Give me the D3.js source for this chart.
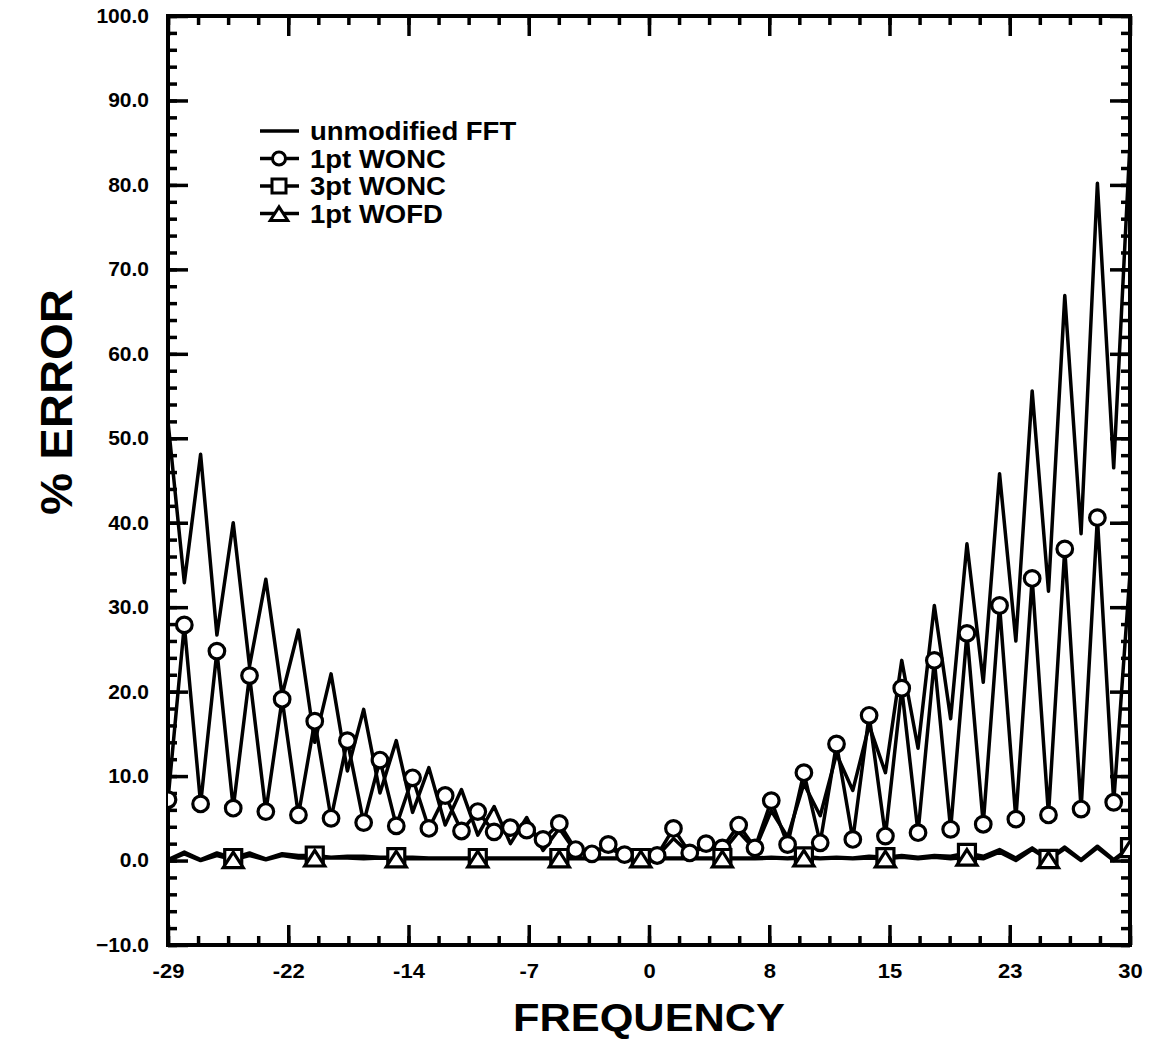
<!DOCTYPE html>
<html>
<head>
<meta charset="utf-8">
<script src="https://cdn.jsdelivr.net/npm/d3@7"></script>
<style>
  body { margin: 0; background: #fff; }
  text { font-family: "Liberation Sans", Arial, Helvetica, sans-serif; font-weight: bold; fill: #000; }
</style>
</head>
<body>
<svg id="chart"></svg>
<script>
// frequencies -29 .. 30
var freqs = [-29, -28, -27, -26, -25, -24, -23, -22, -21, -20, -19, -18, -17, -16, -15,
  -14, -13, -12, -11, -10, -9, -8, -7, -6, -5, -4, -3, -2, -1, 0,
  1, 2, 3, 4, 5, 6, 7, 8, 9, 10, 11, 12, 13, 14, 15,
  16, 17, 18, 19, 20, 21, 22, 23, 24, 25, 26, 27, 28, 29, 30];

var fftErr = [52.0, 32.9, 48.1, 26.7, 40.0, 23.0, 33.3, 19.6, 27.3, 14.0, 22.1, 10.6, 17.9, 8.0, 14.2,
  5.7, 11.0, 4.2, 8.4, 3.0, 6.4, 2.0, 5.1, 1.2, 3.8, 1.0, 1.0, 1.5, 0.6, 0.3,
  0.5, 2.6, 0.8, 1.7, 1.0, 3.4, 1.3, 5.9, 2.8, 9.1, 5.3, 12.6, 8.3, 16.0, 10.4,
  23.7, 13.3, 30.2, 16.8, 37.5, 21.1, 45.8, 26.0, 55.6, 31.9, 66.9, 38.7, 80.2, 46.5, 85.0];

var wonc1Err = [7.2, 27.9, 6.7, 24.8, 6.2, 21.9, 5.8, 19.1, 5.4, 16.5, 5.0, 14.2, 4.5, 11.9, 4.1,
  9.8, 3.8, 7.7, 3.5, 5.8, 3.4, 3.9, 3.6, 2.5, 4.4, 1.3, 0.8, 1.9, 0.7, 0.3,
  0.6, 3.8, 0.9, 2.0, 1.5, 4.2, 1.5, 7.1, 1.9, 10.4, 2.1, 13.8, 2.5, 17.2, 2.9,
  20.4, 3.3, 23.7, 3.7, 26.9, 4.3, 30.2, 4.9, 33.4, 5.4, 36.9, 6.1, 40.6, 6.9, 34.0];

var wonc3Err = [0.1, 1.0, 0.1, 0.9, 0.3, 0.9, 0.2, 0.8, 0.6, 0.6, 0.4, 0.5, 0.5, 0.4, 0.4,
  0.4, 0.3, 0.3, 0.3, 0.3, 0.3, 0.3, 0.3, 0.3, 0.3, 0.3, 0.3, 0.3, 0.3, 0.3,
  0.3, 0.3, 0.3, 0.3, 0.3, 0.3, 0.3, 0.4, 0.3, 0.5, 0.3, 0.4, 0.3, 0.5, 0.4,
  0.6, 0.4, 0.6, 0.5, 0.9, 0.5, 1.3, 0.3, 1.5, 0.2, 1.6, 0.1, 1.7, 0.1, 1.6];

var wofd1Err = [0.0, 0.8, 0.0, 0.6, 0.1, 0.6, 0.1, 0.6, 0.3, 0.3, 0.3, 0.3, 0.2, 0.3, 0.2,
  0.2, 0.2, 0.2, 0.2, 0.2, 0.2, 0.2, 0.2, 0.2, 0.2, 0.2, 0.2, 0.2, 0.2, 0.2,
  0.2, 0.2, 0.2, 0.2, 0.2, 0.2, 0.2, 0.3, 0.2, 0.3, 0.2, 0.3, 0.2, 0.3, 0.2,
  0.4, 0.2, 0.4, 0.2, 0.4, 0.2, 1.0, 0.0, 1.3, 0.1, 1.4, 0.0, 1.5, 0.0, 1.4];

var seriesNames = ["unmodified FFT", "1pt WONC", "3pt WONC", "1pt WOFD"];
var xTickLabels = ["-29", "-22", "-14", "-7", "0", "8", "15", "23", "30"];
var yTicks = [-10, 0, 10, 20, 30, 40, 50, 60, 70, 80, 90, 100];


var width = 1155, height = 1041;
var plot = { left: 168, right: 1130, top: 16, bottom: 945 };
var font = '"Liberation Sans", Arial, Helvetica, sans-serif';
var lineW = 3.5;

var svg = d3.select("#chart")
  .attr("width", width)
  .attr("height", height);

/* Scales */
var x = d3.scaleLinear().domain([-29, 30]).range([plot.left, plot.right]);
var y = d3.scaleLinear().domain([-10, 100]).range([plot.bottom, plot.top]);

// 8 labelled divisions, 4 minor steps each
var xMajor = d3.range(9).map(i => -29 + i * 59 / 8);
var xMinor = d3.range(33).map(i => -29 + i * 59 / 32);
var yMinor = d3.range(-10, 101, 2);

function widen(sel, k) {
  sel.each(function () {
    var w = this.getComputedTextLength();
    d3.select(this).attr("textLength", w * k).attr("lengthAdjust", "spacingAndGlyphs");
  });
}

function styleAxis(g) {
  g.select(".domain").remove();
  g.selectAll(".tick line").attr("stroke", "#000").attr("stroke-width", 3.5);
  g.attr("font-family", font).attr("font-size", 20).attr("font-weight", "bold");
}

/* Axes: ticks pointing inside on all four sides */
svg.append("g").attr("transform", `translate(0,${plot.bottom})`)
  .call(d3.axisBottom(x).tickValues(xMinor).tickSize(-9).tickFormat(""))
  .call(styleAxis);
svg.append("g").attr("transform", `translate(0,${plot.top})`)
  .call(d3.axisTop(x).tickValues(xMinor).tickSize(-9).tickFormat(""))
  .call(styleAxis);
svg.append("g").attr("transform", `translate(0,${plot.top})`)
  .call(d3.axisTop(x).tickValues(xMajor).tickSize(-20).tickFormat(""))
  .call(styleAxis);
var xAxis = svg.append("g").attr("transform", `translate(0,${plot.bottom})`)
  .call(d3.axisBottom(x).tickValues(xMajor).tickSizeInner(-20).tickSizeOuter(0)
    .tickPadding(19).tickFormat((d, i) => xTickLabels[i]))
  .call(styleAxis);
widen(xAxis.selectAll("text"), 1.1);

svg.append("g").attr("transform", `translate(${plot.left},0)`)
  .call(d3.axisLeft(y).tickValues(yMinor).tickSize(-9).tickFormat(""))
  .call(styleAxis);
svg.append("g").attr("transform", `translate(${plot.right},0)`)
  .call(d3.axisRight(y).tickValues(yMinor).tickSize(-9).tickFormat(""))
  .call(styleAxis);
svg.append("g").attr("transform", `translate(${plot.right},0)`)
  .call(d3.axisRight(y).tickValues(yTicks).tickSize(-20).tickFormat(""))
  .call(styleAxis);
var yAxis = svg.append("g").attr("transform", `translate(${plot.left},0)`)
  .call(d3.axisLeft(y).tickValues(yTicks).tickSizeInner(-20).tickSizeOuter(0)
    .tickPadding(19).tickFormat(d3.format(".1f")))
  .call(styleAxis);
widen(yAxis.selectAll("text"), 1.05);

svg.append("rect")
  .attr("x", plot.left).attr("y", plot.top)
  .attr("width", plot.right - plot.left).attr("height", plot.bottom - plot.top)
  .attr("fill", "none").attr("stroke", "#000").attr("stroke-width", 4);

/* Data */
svg.append("clipPath").attr("id", "clip")
  .append("rect")
  .attr("x", plot.left).attr("y", plot.top)
  .attr("width", plot.right - plot.left).attr("height", plot.bottom - plot.top);

var area = svg.append("g").attr("clip-path", "url(#clip)");

var line = d3.line()
  .x((d, i) => x(freqs[i]))
  .y(d => y(d));

[wofd1Err, wonc3Err, fftErr, wonc1Err].forEach(function (vals) {
  area.append("path")
    .attr("d", line(vals))
    .attr("fill", "none")
    .attr("stroke", "#000")
    .attr("stroke-width", lineW)
    .attr("stroke-linejoin", "round");
});

function markerPath(type, s) {
  if (type === "circle") return d3.symbol(d3.symbolCircle, Math.PI * s * s)();
  if (type === "square") return `M${-s},${-s}H${s}V${s}H${-s}Z`;
  return `M0,${-s * 0.95}L${s * 1.25},${s}L${-s * 1.25},${s}Z`;
}

// keep = which points carry a marker
function drawMarkers(vals, type, size, keep) {
  area.selectAll(null)
    .data(vals.map((v, i) => ({ f: freqs[i], v: v })).filter(keep))
    .enter().append("path")
    .attr("d", markerPath(type, size))
    .attr("transform", d => `translate(${x(d.f)},${y(d.v)})`)
    .attr("fill", "#fff")
    .attr("stroke", "#000")
    .attr("stroke-width", 3.2);
}

drawMarkers(wonc1Err, "circle", 7.8, d => d.f < 30);
drawMarkers(wonc3Err, "square", 8.5, d => d.f % 5 === 0);
drawMarkers(wofd1Err, "triangle", 8, d => d.f % 5 === 0);

/* Legend */
var legend = svg.append("g");
var markTypes = [null, "circle", "square", "triangle"];
seriesNames.forEach(function (name, i) {
  var ry = 131 + i * 27.5;
  legend.append("line")
    .attr("x1", 260).attr("x2", 299).attr("y1", ry).attr("y2", ry)
    .attr("stroke", "#000").attr("stroke-width", 3.5);
  if (markTypes[i]) {
    legend.append("path")
      .attr("d", markerPath(markTypes[i], markTypes[i] === "circle" ? 6.5 : 7))
      .attr("transform", `translate(279,${ry})`)
      .attr("fill", "#fff").attr("stroke", "#000").attr("stroke-width", 3);
  }
  var t = legend.append("text")
    .attr("x", 310).attr("y", ry).attr("dy", "0.36em")
    .attr("font-size", 25)
    .text(name);
  widen(t, 1.1);
});

/* Axis titles */
svg.append("text")
  .attr("x", 649).attr("y", 1031)
  .attr("text-anchor", "middle")
  .attr("font-size", 39)
  .attr("textLength", 272).attr("lengthAdjust", "spacingAndGlyphs")
  .text("FREQUENCY");

svg.append("text")
  .attr("transform", "translate(72,402) rotate(-90)")
  .attr("text-anchor", "middle")
  .attr("font-size", 44)
  .attr("textLength", 226).attr("lengthAdjust", "spacingAndGlyphs")
  .text("% ERROR");
</script>
</body>
</html>
